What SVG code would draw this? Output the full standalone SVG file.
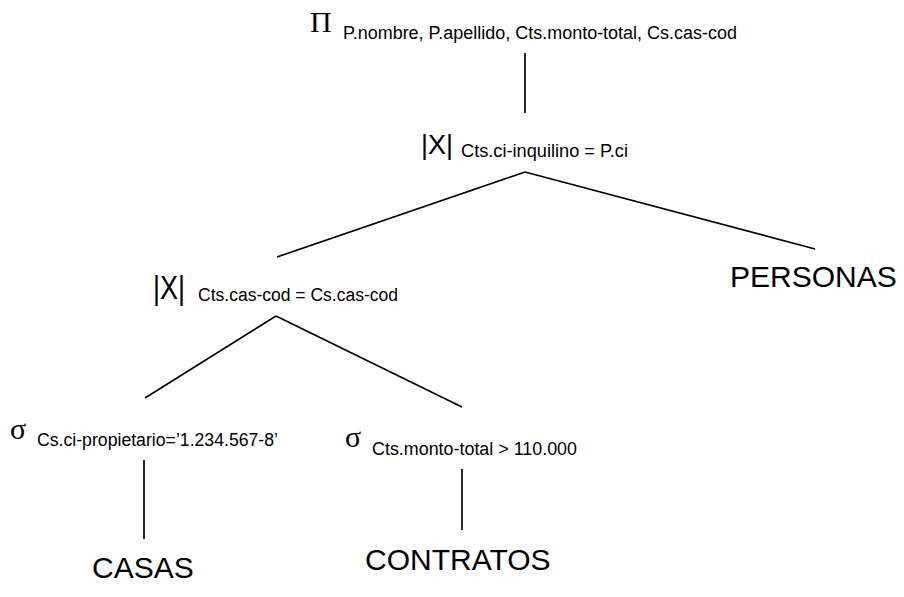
<svg xmlns="http://www.w3.org/2000/svg" width="904" height="597" viewBox="0 0 904 597">
<style>
.sym{font-family:"Liberation Serif","Times New Roman",serif;fill:#000}
.op{font-family:"Liberation Sans",Arial,sans-serif;fill:#000}
.sub{font-family:"Liberation Sans",Arial,sans-serif;font-size:17.6px;fill:#000}
.rel{font-family:"Liberation Sans",Arial,sans-serif;font-size:30px;fill:#000}
.edge{stroke:#000;stroke-width:1.7;fill:none}
</style>
<rect width="904" height="597" fill="#fff"/>
<g id="connectors">
<line class="edge" x1="525" y1="53" x2="525" y2="113"/>
<line class="edge" x1="525" y1="172" x2="277" y2="257"/>
<line class="edge" x1="525" y1="172" x2="815" y2="249"/>
<line class="edge" x1="276" y1="316" x2="145" y2="398"/>
<line class="edge" x1="276" y1="316" x2="462" y2="407"/>
<line class="edge" x1="144" y1="460" x2="144" y2="539"/>
<line class="edge" x1="462" y1="469" x2="462" y2="530"/>
</g>
<g id="proj">
<text class="sym" x="310" y="32" font-size="30">Π</text>
<text class="sub" x="343" y="39" textLength="394" lengthAdjust="spacingAndGlyphs">P.nombre, P.apellido, Cts.monto-total, Cs.cas-cod</text>
</g>
<g id="join1">
<text class="op" x="421" y="154" font-size="27" textLength="32" lengthAdjust="spacingAndGlyphs">|X|</text>
<text class="sub" x="461" y="157" textLength="167" lengthAdjust="spacingAndGlyphs">Cts.ci-inquilino = P.ci</text>
</g>
<g id="join2">
<text class="op" x="153" y="299" font-size="33" textLength="32" lengthAdjust="spacingAndGlyphs">|X|</text>
<text class="sub" x="198" y="301" textLength="200" lengthAdjust="spacingAndGlyphs">Cts.cas-cod = Cs.cas-cod</text>
</g>
<g id="personas">
<text class="rel" x="730" y="287">PERSONAS</text>
</g>
<g id="sel1">
<text class="sym" x="10" y="439" font-size="30">σ</text>
<text class="sub" x="37" y="446" textLength="241" lengthAdjust="spacingAndGlyphs">Cs.ci-propietario=’1.234.567-8’</text>
</g>
<g id="sel2">
<text class="sym" x="345" y="447" font-size="30">σ</text>
<text class="sub" x="372" y="455" textLength="205" lengthAdjust="spacingAndGlyphs">Cts.monto-total &gt; 110.000</text>
</g>
<g id="casas">
<text class="rel" x="92" y="578">CASAS</text>
</g>
<g id="contratos">
<text class="rel" x="365" y="570">CONTRATOS</text>
</g>
</svg>
